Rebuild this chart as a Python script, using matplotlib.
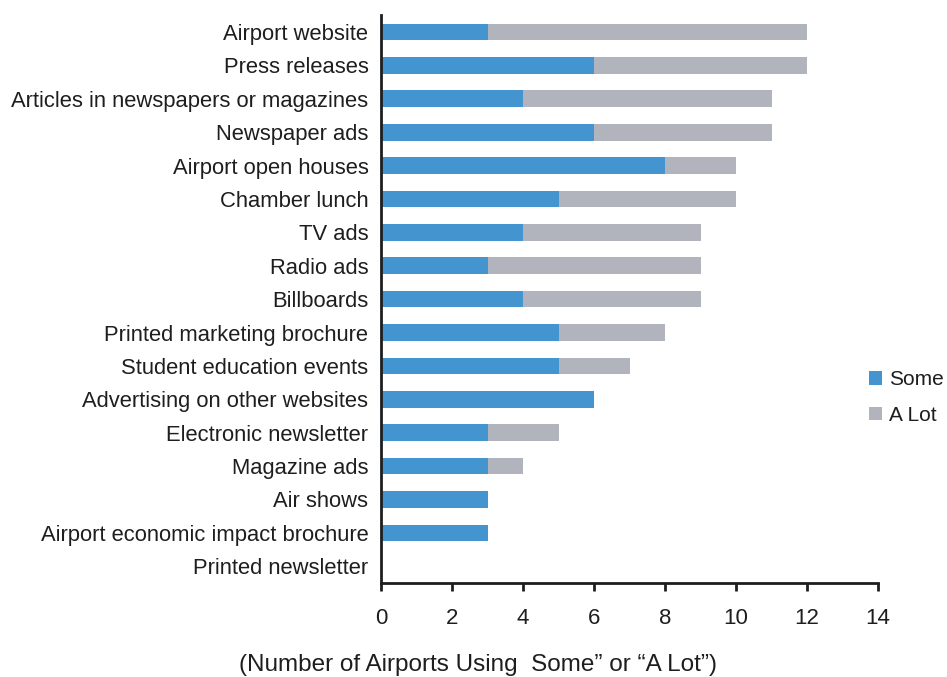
import matplotlib
matplotlib.use("Agg")
import matplotlib.pyplot as plt
import numpy as np

plt.rcParams['font.family'] = ['Liberation Sans', 'DejaVu Sans']

# Marketing channels, top to bottom
channels = [
    "Airport website",
    "Press releases",
    "Articles in newspapers or magazines",
    "Newspaper ads",
    "Airport open houses",
    "Chamber lunch",
    "TV ads",
    "Radio ads",
    "Billboards",
    "Printed marketing brochure",
    "Student education events",
    "Advertising on other websites",
    "Electronic newsletter",
    "Magazine ads",
    "Air shows",
    "Airport economic impact brochure",
    "Printed newsletter",
]
some = [3, 6, 4, 6, 8, 5, 4, 3, 4, 5, 5, 6, 3, 3, 3, 3, 0]
a_lot = [9, 6, 7, 5, 2, 5, 5, 6, 5, 3, 2, 0, 2, 1, 0, 0, 0]

blue = "#4495cf"
grey = "#b1b4bc"
ink = "#1e1e1e"

fig = plt.figure(figsize=(9.47, 6.77), dpi=100)
ax = fig.add_axes([0.4023, 0.1389, 0.525, 0.8385])

y = np.arange(len(channels))
ax.barh(y, some, height=0.5, color=blue, label="Some")
ax.barh(y, a_lot, left=some, height=0.5, color=grey, label="A Lot")

ax.set_ylim(len(channels) - 0.5, -0.5)
ax.set_yticks(y)
ax.set_yticklabels(channels, fontsize=15.8, color=ink)
ax.tick_params(axis="y", length=0, pad=9)

ax.set_xlim(0, 14)
ax.set_xticks(range(0, 15, 2))
ax.tick_params(axis="x", direction="out", length=6, width=2, labelsize=16,
               pad=12, labelcolor=ink, color=ink)

for side in ("top", "right"):
    ax.spines[side].set_visible(False)
for side in ("left", "bottom"):
    ax.spines[side].set_linewidth(2)
    ax.spines[side].set_color(ink)

fig.text(0.505, 0.009, "(Number of Airports Using  Some\u201d or \u201cA Lot\u201d)",
         fontsize=17.5, ha="center", va="baseline", color=ink)

ax.legend(loc="center left", bbox_to_anchor=(0.9176, 0.4125),
          bbox_transform=fig.transFigure, frameon=False, borderpad=0,
          borderaxespad=0, fontsize=15, handlelength=0.62, handleheight=0.62,
          handletextpad=0.34, labelspacing=0.8, labelcolor=ink)

fig.savefig("out.png", dpi=100)
